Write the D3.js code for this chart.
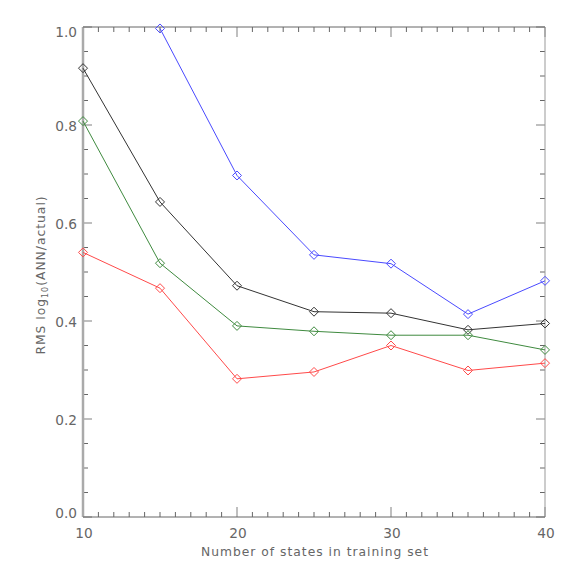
<!DOCTYPE html>
<html><head><meta charset="utf-8">
<script src="https://cdn.jsdelivr.net/npm/d3@7"></script>
<style>body{margin:0;background:#fff}</style>
</head><body>
<svg id="c" width="570" height="570"></svg>
<script>
const xValues = [10, 15, 20, 25, 30, 35, 40];
const blueValues  = [null, 0.997, 0.697, 0.535, 0.517, 0.414, 0.482];
const blackValues = [0.916, 0.643, 0.472, 0.419, 0.416, 0.382, 0.395];
const greenValues = [0.808, 0.518, 0.390, 0.379, 0.371, 0.371, 0.341];
const redValues   = [0.540, 0.467, 0.282, 0.296, 0.350, 0.299, 0.314];
const xTicks = [10, 20, 30, 40];
const yTicks = [0.0, 0.2, 0.4, 0.6, 0.8, 1.0];
const seriesColors = ["#4a4aff", "#333333", "#3f8a3f", "#ff4a4a"];
const seriesList = [blueValues, blackValues, greenValues, redValues];

const svg = d3.select("#c");
const L = 83, R = 545, T = 27, B = 517;
const x = d3.scaleLinear().domain([10, 40]).range([L, R]);
const y = d3.scaleLinear().domain([0, 1]).range([B, T]);
const axisColor = "#666";
const textColor = "#666";
const font = "DejaVu Sans, sans-serif";

// minor ticks
const xMinor = d3.range(10, 40.01, 1);
const yMinor = d3.range(0, 1.001, 0.05);
const g = svg.append("g").attr("stroke", axisColor).attr("stroke-width", 1).attr("fill", "none");
xMinor.forEach(v => {
  const major = Math.abs(v % 10) < 1e-6;
  const len = major ? 10 : 5;
  g.append("line").attr("x1", x(v)).attr("x2", x(v)).attr("y1", B).attr("y2", B - len).attr("stroke", major ? "#aaa" : axisColor).attr("stroke-width", major ? 1.5 : 1);
  g.append("line").attr("x1", x(v)).attr("x2", x(v)).attr("y1", T).attr("y2", T + len).attr("stroke", major ? "#aaa" : axisColor).attr("stroke-width", major ? 1.5 : 1);
});
yMinor.forEach(v => {
  const major = Math.abs(Math.round(v * 100) % 20) < 1e-6;
  const len = major ? 9 : 5;
  g.append("line").attr("x1", L).attr("x2", L + len).attr("y1", y(v)).attr("y2", y(v)).attr("stroke", major ? "#aaa" : axisColor).attr("stroke-width", major ? 1.5 : 1);
  g.append("line").attr("x1", R).attr("x2", R - len).attr("y1", y(v)).attr("y2", y(v)).attr("stroke", major ? "#aaa" : axisColor).attr("stroke-width", major ? 1.5 : 1);
});
// axis frame
g.append("line").attr("x1", L).attr("x2", L).attr("y1", T).attr("y2", B).attr("stroke", "#aaa").attr("stroke-width", 2.5);
g.append("line").attr("x1", R).attr("x2", R).attr("y1", T).attr("y2", B).attr("stroke", "#999");
g.append("line").attr("x1", L).attr("x2", R).attr("y1", B).attr("y2", B).attr("stroke", axisColor);
g.append("line").attr("x1", L).attr("x2", R).attr("y1", T).attr("y2", T).attr("stroke", axisColor);

// tick labels
svg.append("g").selectAll("text").data(xTicks).join("text")
  .attr("x", d => x(d) + 1).attr("y", 538).attr("text-anchor", "middle")
  .attr("font-family", font).attr("font-size", 13.7).attr("fill", textColor)
  .text(d => d);
const yOff = d => d === 0 ? 1 : (d === 1 ? 10 : 5.5);
svg.append("g").selectAll("text").data(yTicks).join("text")
  .attr("x", 77).attr("y", d => y(d) + yOff(d)).attr("text-anchor", "end")
  .attr("font-family", font).attr("font-size", 13.7).attr("fill", textColor)
  .text(d => d.toFixed(1));

// axis titles
svg.append("text").attr("x", 315).attr("y", 556).attr("text-anchor", "middle")
  .attr("font-family", font).attr("font-size", 12.3).attr("letter-spacing", 1).attr("fill", textColor)
  .text("Number of states in training set");
const yl = svg.append("text").attr("transform", `translate(44.5,275) rotate(-90)`)
  .attr("text-anchor", "middle").attr("font-family", font).attr("font-size", 12.3)
  .attr("letter-spacing", 1).attr("fill", textColor);
yl.append("tspan").text("RMS log");
yl.append("tspan").attr("font-size", 8).attr("dy", 3).text("10");
yl.append("tspan").attr("dy", -3).text("(ANN/actual)");

// series
const line = d3.line().defined(d => d[1] != null).x(d => x(d[0])).y(d => y(d[1]));
const diamond = (cx, cy, s) => `M${cx},${cy - s}L${cx + s},${cy}L${cx},${cy + s}L${cx - s},${cy}Z`;
seriesList.forEach((vals, i) => {
  const pts = xValues.map((xv, j) => [xv, vals[j]]);
  svg.append("path").attr("d", line(pts)).attr("fill", "none")
    .attr("stroke", seriesColors[i]).attr("stroke-width", 1);
  svg.append("g").selectAll("path").data(pts.filter(p => p[1] != null)).join("path")
    .attr("d", p => diamond(x(p[0]), y(p[1]), 4.5))
    .attr("fill", "none").attr("stroke", seriesColors[i]).attr("stroke-width", 1);
});
</script>
</body></html>
